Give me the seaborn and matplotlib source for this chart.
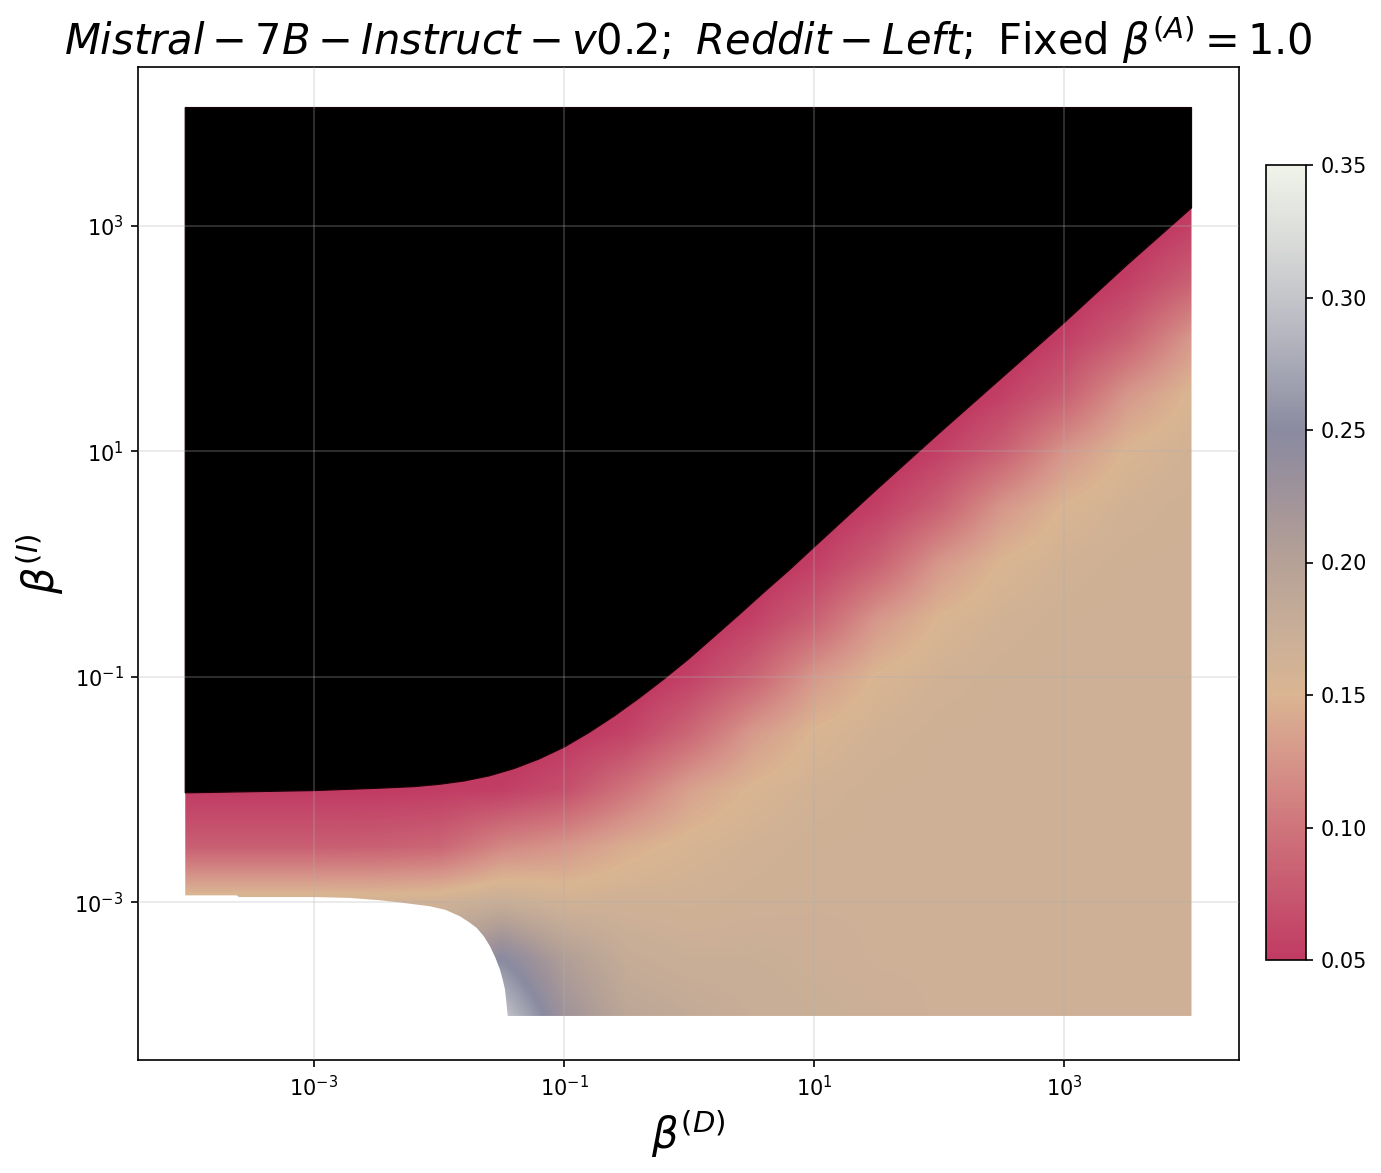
import numpy as np
import matplotlib
matplotlib.use("Agg")
import matplotlib.pyplot as plt
import seaborn as sns
from matplotlib.patches import Polygon

# ---------------- data (log10 exponents of beta values) ----------------
beta_d_exp = [-4.0, -3.5, -3.0, -2.5, -2.0, -1.5, -1.0, -0.5, 0.0, 0.5, 1.0, 1.5, 2.0, 2.5, 3.0, 3.5, 4.0]
beta_i_exp = [-4.0, -3.5, -3.0, -2.5, -2.0, -1.5, -1.0, -0.5, 0.0, 0.5, 1.0, 1.5, 2.0, 2.5, 3.0, 3.5, 4.0]

# metric value on the grid, one row per beta_i_exp (bottom to top)
values = [
    [0.220, 0.220, 0.220, 0.220, 0.240, 0.300, 0.225, 0.190, 0.182, 0.175, 0.172, 0.170, 0.168, 0.168, 0.168, 0.168, 0.168],
    [0.190, 0.190, 0.190, 0.190, 0.200, 0.250, 0.205, 0.178, 0.172, 0.172, 0.170, 0.168, 0.168, 0.168, 0.168, 0.168, 0.168],
    [0.163, 0.163, 0.163, 0.162, 0.165, 0.175, 0.163, 0.165, 0.164, 0.167, 0.168, 0.168, 0.168, 0.168, 0.168, 0.168, 0.168],
    [0.081, 0.081, 0.081, 0.082, 0.087, 0.114, 0.126, 0.144, 0.155, 0.162, 0.167, 0.168, 0.168, 0.168, 0.168, 0.168, 0.168],
    [0.050, 0.050, 0.050, 0.050, 0.052, 0.054, 0.068, 0.100, 0.135, 0.152, 0.162, 0.167, 0.168, 0.168, 0.168, 0.168, 0.168],
    [0.030, 0.030, 0.030, 0.030, 0.032, 0.036, 0.045, 0.058, 0.089, 0.129, 0.152, 0.162, 0.167, 0.168, 0.168, 0.168, 0.168],
    [0.010, 0.010, 0.010, 0.010, 0.012, 0.016, 0.025, 0.039, 0.056, 0.085, 0.128, 0.152, 0.162, 0.167, 0.168, 0.168, 0.168],
    [0.000, 0.000, 0.000, 0.000, 0.000, 0.000, 0.005, 0.019, 0.037, 0.056, 0.084, 0.128, 0.152, 0.162, 0.167, 0.168, 0.168],
    [0.000, 0.000, 0.000, 0.000, 0.000, 0.000, 0.000, 0.000, 0.017, 0.037, 0.055, 0.084, 0.128, 0.152, 0.162, 0.167, 0.168],
    [0.000, 0.000, 0.000, 0.000, 0.000, 0.000, 0.000, 0.000, 0.000, 0.017, 0.036, 0.055, 0.084, 0.127, 0.152, 0.162, 0.167],
    [0.000, 0.000, 0.000, 0.000, 0.000, 0.000, 0.000, 0.000, 0.000, 0.000, 0.017, 0.036, 0.055, 0.083, 0.126, 0.152, 0.162],
    [0.000, 0.000, 0.000, 0.000, 0.000, 0.000, 0.000, 0.000, 0.000, 0.000, 0.000, 0.017, 0.036, 0.055, 0.082, 0.127, 0.152],
    [0.000, 0.000, 0.000, 0.000, 0.000, 0.000, 0.000, 0.000, 0.000, 0.000, 0.000, 0.000, 0.017, 0.036, 0.055, 0.083, 0.127],
    [0.000, 0.000, 0.000, 0.000, 0.000, 0.000, 0.000, 0.000, 0.000, 0.000, 0.000, 0.000, 0.000, 0.016, 0.036, 0.055, 0.083],
    [0.000, 0.000, 0.000, 0.000, 0.000, 0.000, 0.000, 0.000, 0.000, 0.000, 0.000, 0.000, 0.000, 0.000, 0.016, 0.036, 0.055],
    [0.000, 0.000, 0.000, 0.000, 0.000, 0.000, 0.000, 0.000, 0.000, 0.000, 0.000, 0.000, 0.000, 0.000, 0.000, 0.016, 0.036],
    [0.000, 0.000, 0.000, 0.000, 0.000, 0.000, 0.000, 0.000, 0.000, 0.000, 0.000, 0.000, 0.000, 0.000, 0.000, 0.000, 0.016],
]

# extent of the computed grid (log10)
grid_d_range = [-4.03, 4.02]
grid_i_range = [-4.01, 4.05]

# lower edge of the black (below colour range) region
black_edge_d = [-4.03, -3.5, -3.0, -2.5, -2.2, -2.0, -1.8, -1.6, -1.4, -1.2, -1.0, -0.8, -0.6, -0.4,
                -0.2, 0.0, 0.2, 0.4, 0.6, 0.8, 1.0, 1.5, 2.0, 2.5, 3.0, 3.5, 4.02]
black_edge_i = [-2.03, -2.02, -2.01, -1.99, -1.975, -1.955, -1.925, -1.88, -1.815, -1.73, -1.625, -1.495,
                -1.35, -1.19, -1.02, -0.84, -0.645, -0.45, -0.25, -0.055, 0.15, 0.66, 1.16, 1.65, 2.14, 2.65, 3.16]

# upper/right edge of the empty (white) region
white_edge_d = [-4.03, -3.62, -3.60, -3.0, -2.71, -2.47, -2.3, -2.072, -1.95, -1.832, -1.76, -1.698,
                -1.64, -1.592, -1.55, -1.512, -1.49, -1.472, -1.462, -1.45]
white_edge_i = [-2.94, -2.94, -2.955, -2.955, -2.963, -2.984, -3.005, -3.037, -3.068, -3.126, -3.178, -3.229,
                -3.305, -3.392, -3.49, -3.599, -3.69, -3.776, -3.88, -4.01]

cbar_colors = ["#c13b63", "#c75870", "#cf757b", "#d6958a", "#dab592", "#c8ae98", "#b5a196",
               "#a0939a", "#8a8aa0", "#a8a9b6", "#c4c5ca", "#dcdedb", "#eff3e9"]
cbar_ticks = [0.05, 0.10, 0.15, 0.20, 0.25, 0.30, 0.35]
axis_tick_exp = [-3, -1, 1, 3]

title = r"$Mistral-7B-Instruct-v0.2;\ Reddit-Left;$ Fixed $\beta^{(A)}=1.0$"

# ---------------- plotting ----------------
sns.set_style("ticks")
plt.rcParams.update({
    "font.family": ["DejaVu Sans"],
    "axes.edgecolor": "black",
    "axes.labelcolor": "black",
    "text.color": "black",
    "xtick.color": "black",
    "ytick.color": "black",
    "mathtext.fontset": "dejavusans",
})

W, H, DPI = 1381, 1173, 150
fig = plt.figure(figsize=(W / DPI, H / DPI), dpi=DPI)
ax = fig.add_axes([138 / W, 1 - 1060 / H, (1239 - 138) / W, (1060 - 67) / H])
cax = fig.add_axes([1266 / W, 1 - 960 / H, 40 / W, (960 - 165) / H])

cmap = sns.blend_palette(cbar_colors, as_cmap=True)
Z = np.array(values)
xd = np.array(beta_d_exp)
yi = np.array(beta_i_exp)
hx = (xd[1] - xd[0]) / 2
hy = (yi[1] - yi[0]) / 2
im = ax.imshow(Z, origin="lower", extent=[xd[0] - hx, xd[-1] + hx, yi[0] - hy, yi[-1] + hy],
               cmap=cmap, vmin=cbar_ticks[0], vmax=cbar_ticks[-1], aspect="auto",
               interpolation="bilinear", interpolation_stage="data", zorder=0)

x0, x1 = grid_d_range
y0, y1 = grid_i_range
valid = [(x0, y1), (x1, y1), (x1, y0)] + list(zip(white_edge_d[::-1], white_edge_i[::-1]))
clip = Polygon(valid, closed=True, transform=ax.transData, facecolor="none", edgecolor="none")
im.set_clip_path(clip)

black_poly = list(zip(black_edge_d, black_edge_i)) + [(x1, y1), (x0, y1)]
ax.add_patch(Polygon(black_poly, closed=True, facecolor="black", edgecolor="#1a0008",
                     linewidth=0.6, zorder=1))

ax.set_xlim(-4.408, 4.40)
ax.set_ylim(-4.401, 4.41)
ax.set_axisbelow(False)
ax.grid(True, color="#b0b0b0", alpha=0.3, linewidth=0.8)
ax.set_xticks(axis_tick_exp)
ax.set_yticks(axis_tick_exp)
ax.set_xticklabels([r"$\mathdefault{10^{%d}}$" % e for e in axis_tick_exp])
ax.set_yticklabels([r"$\mathdefault{10^{%d}}$" % e for e in axis_tick_exp])
ax.tick_params(labelsize=10, direction="out", length=3.5, width=0.8)
for s in ax.spines.values():
    s.set_visible(True)
    s.set_linewidth(0.8)

ax.set_xlabel(r"$\beta^{(D)}$", fontsize=20)
ax.set_ylabel(r"$\beta^{(I)}$", fontsize=20)
ax.set_title(title, fontsize=20)

cb = fig.colorbar(im, cax=cax, ticks=cbar_ticks)
cb.ax.set_yticklabels(["%.2f" % t for t in cbar_ticks])
cb.ax.tick_params(labelsize=10, length=3.5, width=0.8)
cb.outline.set_linewidth(0.8)

fig.savefig("out.png", dpi=DPI)
